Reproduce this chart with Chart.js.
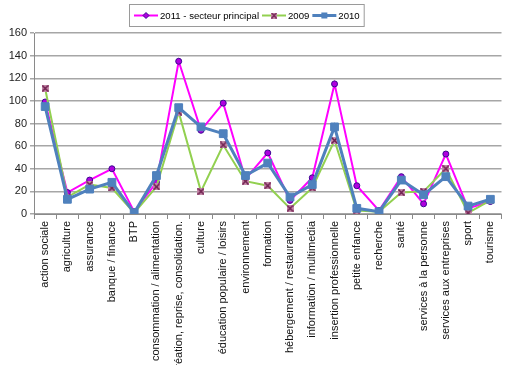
<!DOCTYPE html>
<html lang="fr">
<head>
  <meta charset="UTF-8">
  <title>Secteurs d'activité</title>
  <script src="https://cdn.jsdelivr.net/npm/chart.js"></script>
  <style>
    body { margin: 0; background: #fff; }
    #graphique { display: block; }
  </style>
</head>
<body>
  <canvas id="graphique" width="508" height="365"></canvas>

  <script>
    const secteurs = [
      'action sociale', 'agriculture', 'assurance', 'banque / finance', 'BTP',
      'consommation / alimentation', 'création, reprise, consolidation.',
      'culture', 'éducation populaire / loisirs', 'environnement', 'formation',
      'hébergement / restauration', 'information / multimedia',
      'insertion professionnelle', 'petite enfance', 'recherche', 'santé',
      'services à la personne', 'services aux entreprises', 'sport', 'tourisme'
    ];
    const valeurs2011 = [99, 19, 30, 40, 2, 28, 135, 74, 98, 31, 54, 12, 32, 115, 25, 3, 33, 9, 53, 5, 11];
    const valeurs2009 = [111, 15, 26, 23, 1, 24, 90, 20, 61, 29, 25, 5, 23, 65, 3, 2, 19, 20, 40, 1, 12];
    const valeurs2010 = [95, 13, 22, 28, 1, 34, 94, 77, 71, 34, 45, 15, 26, 77, 5, 2, 30, 17, 33, 7, 13];
    const graduations = [0, 20, 40, 60, 80, 100, 120, 140, 160];

    // marqueur "carré barré" pour la série 2009
    function marqueurCroix() {
      const c = document.createElement('canvas');
      c.width = 7; c.height = 7;
      const g = c.getContext('2d');
      g.fillStyle = '#c48aa8';
      g.fillRect(0, 0, 7, 7);
      g.strokeStyle = '#6e1e4e';
      g.lineWidth = 1.5;
      g.beginPath();
      g.moveTo(0.5, 0.5); g.lineTo(6.5, 6.5);
      g.moveTo(6.5, 0.5); g.lineTo(0.5, 6.5);
      g.stroke();
      return c;
    }
    const croix = marqueurCroix();

    // légende encadrée en haut du graphique, les entrées sont placées
    // les unes après les autres selon la largeur du texte
    const legendeCadre = {
      id: 'legendeCadre',
      afterDraw(chart) {
        const ctx = chart.ctx;
        ctx.save();
        ctx.font = '9.6px "Liberation Sans", Arial, sans-serif';
        ctx.textBaseline = 'middle';
        const gauche = 129, haut = 4.5, hauteur = 22;
        const y = haut + hauteur / 2;
        let x = gauche + 5;
        const places = chart.data.datasets.map(ds => {
          const p = { ds, x };
          x += 26 + ctx.measureText(ds.label).width + 3;
          return p;
        });
        const largeur = x - gauche + 1;
        ctx.fillStyle = '#fff';
        ctx.strokeStyle = '#9a9a9a';
        ctx.lineWidth = 1;
        ctx.fillRect(gauche + 0.5, haut, largeur, hauteur);
        ctx.strokeRect(gauche + 0.5, haut, largeur, hauteur);

        places.forEach(it => {
          ctx.strokeStyle = it.ds.borderColor;
          ctx.lineWidth = it.ds.borderWidth;
          ctx.beginPath();
          ctx.moveTo(it.x, y); ctx.lineTo(it.x + 24, y);
          ctx.stroke();
          const cx = it.x + 12;
          if (it.ds.pointStyle === 'rect') {
            ctx.fillStyle = it.ds.pointBackgroundColor;
            ctx.fillRect(cx - 3, y - 3, 6, 6);
          } else if (it.ds.pointStyle === 'circle') {
            ctx.fillStyle = it.ds.pointBackgroundColor;
            ctx.strokeStyle = it.ds.pointBorderColor;
            ctx.lineWidth = 1;
            ctx.beginPath();
            ctx.moveTo(cx, y - 3); ctx.lineTo(cx + 3, y); ctx.lineTo(cx, y + 3); ctx.lineTo(cx - 3, y);
            ctx.closePath();
            ctx.fill(); ctx.stroke();
          } else {
            ctx.drawImage(croix, cx - 3, y - 3, 6, 6);
          }
          ctx.fillStyle = '#000';
          ctx.fillText(it.ds.label, it.x + 26, y + 0.5);
        });
        ctx.restore();
      }
    };

    new Chart(document.getElementById('graphique'), {
      type: 'line',
      data: {
        labels: secteurs,
        datasets: [
          {
            label: '2011 - secteur principal',
            data: valeurs2011,
            borderColor: '#ff00ff',
            borderWidth: 2,
            pointStyle: 'circle',
            pointRadius: 3,
            pointBackgroundColor: '#b000e0',
            pointBorderColor: '#3a0a90',
            pointBorderWidth: 1,
            tension: 0,
            order: 3
          },
          {
            label: '2009',
            data: valeurs2009,
            borderColor: '#92d050',
            borderWidth: 2,
            pointStyle: croix,
            pointRadius: 4,
            pointBackgroundColor: '#c48aa8',
            tension: 0,
            order: 2
          },
          {
            label: '2010',
            data: valeurs2010,
            borderColor: '#4f81bd',
            borderWidth: 3,
            pointStyle: 'rect',
            pointRadius: 5.5,
            pointBackgroundColor: '#4f81bd',
            pointBorderColor: '#4f81bd',
            pointBorderWidth: 1,
            tension: 0,
            order: 1
          }
        ]
      },
      options: {
        responsive: false,
        animation: false,
        layout: { padding: { top: 33, right: 0, left: 0, bottom: 0 } },
        plugins: {
          legend: { display: false },
          tooltip: { enabled: false }
        },
        scales: {
          x: {
            offset: true,
            afterFit(scale) { scale.height = 151; },
            grid: {
              offset: true,
              drawOnChartArea: false,
              drawTicks: true,
              tickLength: 5,
              color: '#8a8a8a'
            },
            border: { display: true, color: '#8a8a8a', width: 1 },
            ticks: {
              autoSkip: false,
              maxRotation: 90,
              minRotation: 90,
              padding: 2,
              color: '#111',
              font: { family: '"Liberation Sans", Arial, sans-serif', size: 11 }
            }
          },
          y: {
            min: 0,
            max: 160,
            afterFit(scale) { scale.width = 34; },
            afterBuildTicks(scale) { scale.ticks = graduations.map(v => ({ value: v })); },
            grid: {
              color: '#a6a6a6',
              lineWidth: 1.5,
              tickLength: 4
            },
            border: { display: true, color: '#8a8a8a', width: 1 },
            ticks: {
              padding: 3,
              color: '#222',
              font: { family: '"Liberation Sans", Arial, sans-serif', size: 11 }
            }
          }
        }
      },
      plugins: [legendeCadre]
    });
  </script>
</body>
</html>
